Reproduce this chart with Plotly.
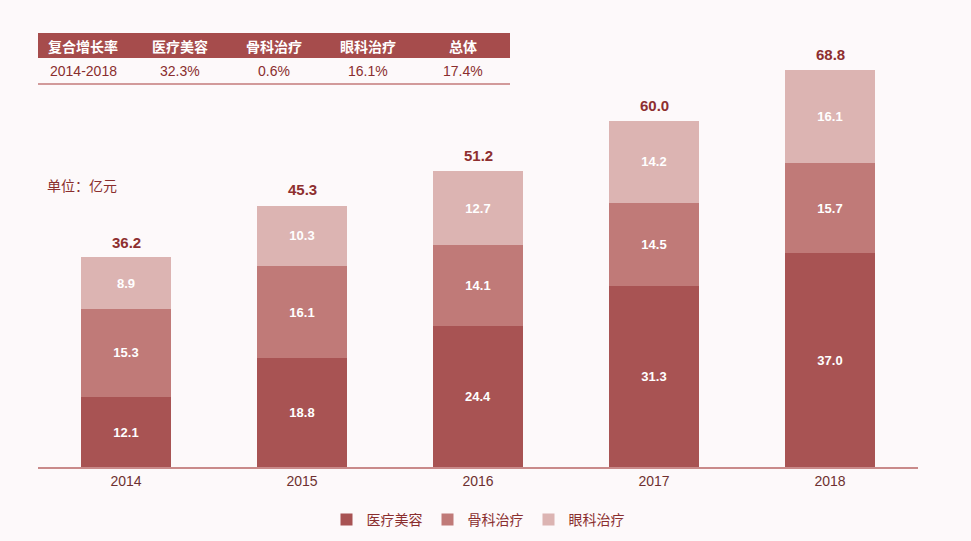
import plotly.graph_objects as go

years = ["2014", "2015", "2016", "2017", "2018"]
yiliao = [12.1, 18.8, 24.4, 31.3, 37.0]
guke = [15.3, 16.1, 14.1, 14.5, 15.7]
yanke = [8.9, 10.3, 12.7, 14.2, 16.1]
totals = [36.2, 45.3, 51.2, 60.0, 68.8]
series_names = ["医疗美容", "骨科治疗", "眼科治疗"]

table_header = ["复合增长率", "医疗美容", "骨科治疗", "眼科治疗", "总体"]
table_row = ["2014-2018", "32.3%", "0.6%", "16.1%", "17.4%"]

colors = ["#a85353", "#c07a78", "#dcb4b2"]
bg = "#fdf9fa"
W, H = 971, 541
ml, mr, mt, mb = 38, 53, 30, 74

fig = go.Figure()
for name, vals, c in zip(series_names, [yiliao, guke, yanke], colors):
    fig.add_trace(go.Bar(
        x=years, y=vals, name=name, marker=dict(color=c, line=dict(width=0)),
        text=[f"{v:.1f}" for v in vals], textposition="inside",
        insidetextanchor="middle",
        textfont=dict(color="white", size=13, family="Liberation Sans, Arial", weight="bold"),
        hoverinfo="skip",
    ))

shapes = []
annotations = []
PW = W - ml - mr
PH = H - mt - mb

# total labels above each stack (category index on the x axis)
for i, t in enumerate(totals):
    annotations.append(dict(xref="x", yref="y", x=i, y=t, yanchor="bottom",
                            xanchor="center", yshift=5, text=f"<b>{t:.1f}</b>",
                            showarrow=False,
                            font=dict(color="#8e2f2f", size=15, family="Liberation Sans, Arial")))

def px_x(x):
    return (x - ml) / PW

def px_y(y):
    return (H - mb - y) / PH

# table header band
shapes.append(dict(type="rect", xref="paper", yref="paper",
                   x0=px_x(38), x1=px_x(510), y0=px_y(58), y1=px_y(33),
                   fillcolor="#a64c4c", line=dict(width=0), layer="below"))
shapes.append(dict(type="line", xref="paper", yref="paper",
                   x0=px_x(38), x1=px_x(510), y0=px_y(84), y1=px_y(84),
                   line=dict(color="#d29a9a", width=2)))
col_x = [83, 180, 274, 368, 463]
for cx, h, r in zip(col_x, table_header, table_row):
    annotations.append(dict(xref="paper", yref="paper", x=px_x(cx), y=px_y(45.5),
                            xanchor="center", yanchor="middle", text=f"<b>{h}</b>",
                            showarrow=False,
                            font=dict(color="white", size=14, family="Noto Sans CJK SC")))
    annotations.append(dict(xref="paper", yref="paper", x=px_x(cx), y=px_y(71),
                            xanchor="center", yanchor="middle", text=r, showarrow=False,
                            font=dict(color="#8a2e2e", size=14, family="Liberation Sans, Arial")))

annotations.append(dict(xref="paper", yref="paper", x=px_x(45), y=px_y(185),
                        xanchor="left", yanchor="middle", text="单位：亿元", showarrow=False,
                        font=dict(color="#8a2e2e", size=14, family="Noto Sans CJK SC")))

fig.update_layout(
    width=W, height=H, barmode="stack", bargap=0.49,
    paper_bgcolor=bg, plot_bgcolor=bg,
    margin=dict(l=ml, r=mr, t=mt, b=mb, autoexpand=False),
    xaxis=dict(type="category", showline=True, linecolor="#c98a8a", linewidth=1.5, ticks="",
               tickfont=dict(color="#6e3030", size=14, family="Liberation Sans, Arial"),
               showgrid=False, zeroline=False, automargin=False),
    yaxis=dict(range=[0, 75.7], visible=False, showgrid=False, automargin=False),
    legend=dict(orientation="h", x=0.5, xanchor="center", y=-(520 - (H - mb)) / PH,
                yanchor="middle",
                font=dict(color="#8a2e2e", size=14, family="Noto Sans CJK SC"),
                traceorder="normal", itemwidth=30),
    shapes=shapes, annotations=annotations,
    font=dict(family="Noto Sans CJK SC"),
)
fig.write_html("out.html", config={"displayModeBar": False},
               post_script="document.body.style.margin='0';document.body.style.background='#fdf9fa';")
